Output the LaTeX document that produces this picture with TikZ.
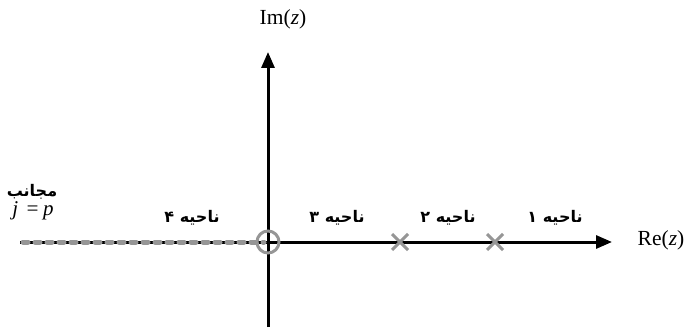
\documentclass[tikz,border=0pt]{standalone}
\usepackage{fontspec}
\setmainfont{Liberation Serif}
\newfontfamily\arabicfont[Script=Arabic]{DejaVu Sans}
\TeXXeTstate=1
\usetikzlibrary{arrows.meta}
\definecolor{mygray}{RGB}{150,150,150}
\tikzset{
  axis/.style={line width=3pt,-{Triangle[length=16pt,width=13pt]}},
  crossmark/.style={draw=mygray,line width=3pt},
  region/.style={font=\arabicfont\bfseries\fontsize{16}{18}\selectfont},
  axlabel/.style={font=\fontsize{21.5}{23}\selectfont}
}
\begin{document}
\begin{tikzpicture}[x=1pt,y=-1pt]
\useasboundingbox (0,0) rectangle (685,329);
\coordinate (o) at (268,242);
\coordinate (left) at (20,242);
\coordinate (right) at (612,242);
\coordinate (top) at (268,52);
\coordinate (bot) at (268,327);
\draw[line width=3pt] (left) -- (o);
\draw[axis] (o) -- (right);
\draw[axis] (bot) -- (top);
\draw[mygray,line width=5pt,line cap=round,dash pattern=on 5pt off 7pt] (23,242) -- (264,242);
\draw[mygray,line width=3pt] (o) circle (11);
\foreach \x in {400,495}{
  \draw[crossmark] (\x-8,242-8) -- (\x+8,242+8);
  \draw[crossmark] (\x-8,242+8) -- (\x+8,242-8);
}
\node[axlabel] (im) at (283,19) {Im(\textit{z})};
\node[axlabel] (re) at (661,240) {Re(\textit{z})};
\node[region] (r1) at (555,218) {\beginR ناحیه ۱\endR};
\node[region] (r2) at (448,218) {\beginR ناحیه ۲\endR};
\node[region] (r3) at (337,218) {\beginR ناحیه ۳\endR};
\node[region] (r4) at (192,218) {\beginR ناحیه ۴\endR};
\node[region,inner sep=0pt] (asym) at (32,192) {\beginR مجانب\endR};
\node[font=\itshape\fontsize{21}{23}\selectfont,inner sep=0pt] (jp) at (33,211) {j\,\,=\,p};
\end{tikzpicture}
\end{document}
